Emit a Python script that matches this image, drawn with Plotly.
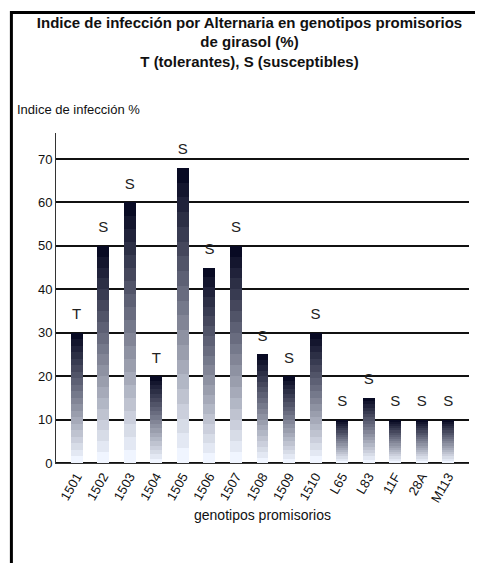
import plotly.graph_objects as go

genotipos = ["1501","1502","1503","1504","1505","1506","1507","1508","1509","1510","L65","L83","11F","28A","M113"]
indice = [30, 50, 60, 20, 68, 45, 50, 25, 20, 30, 10, 15, 10, 10, 10]
clase = ["T","S","S","T","S","S","S","S","S","S","S","S","S","S","S"]

n_seg = 20
fig = go.Figure()
for k in range(n_seg):
    t = k / (n_seg - 1)
    r = int(240 - t * 232); g = int(245 - t * 235); b = int(255 - t * 220)
    fig.add_trace(go.Bar(
        x=genotipos, y=[v / n_seg for v in indice],
        marker=dict(color=f"rgb({r},{g},{b})", line=dict(width=0)),
        width=0.45, showlegend=False, hoverinfo="skip"))
fig.add_trace(go.Scatter(
    x=genotipos, y=[v + 4 for v in indice], text=clase, mode="text",
    textfont=dict(family="Liberation Sans Narrow, Arial Narrow, sans-serif", size=15, color="#222"),
    showlegend=False))

fig.update_layout(
    barmode="stack", width=483, height=563,
    paper_bgcolor="white", plot_bgcolor="white",
    margin=dict(l=48, r=22, t=125, b=108),
    font=dict(family="Liberation Sans Narrow, Arial Narrow, sans-serif", color="#111"),
    title=dict(text="<b>Indice de infección por Alternaria en genotipos promisorios<br>de girasol (%)<br>T (tolerantes), S (susceptibles)</b>",
               x=0.5, y=0.965, xanchor="center", yanchor="top", font=dict(size=15)),
    xaxis=dict(tickangle=-60, tickfont=dict(size=13, family="Liberation Sans Narrow, sans-serif"),
               showline=True, linecolor="#333", title=dict(text="genotipos promisorios", font=dict(size=14), standoff=6)),
    yaxis=dict(range=[0, 76], dtick=10, showgrid=True, gridcolor="#111", gridwidth=1.5,
               showline=True, linecolor="#333", tickfont=dict(size=13), zeroline=True, zerolinecolor="#111"),
    shapes=[dict(type="rect", xref="paper", yref="paper", x0=-0.108, x1=1.04, y0=-0.313, y1=1.365,
                 line=dict(color="black", width=3))],
    annotations=[dict(text="Indice de infección %", xref="paper", yref="paper", x=-0.1, y=1.1,
                      xanchor="left", showarrow=False, font=dict(size=13))],
)
fig.write_html("out.html")
